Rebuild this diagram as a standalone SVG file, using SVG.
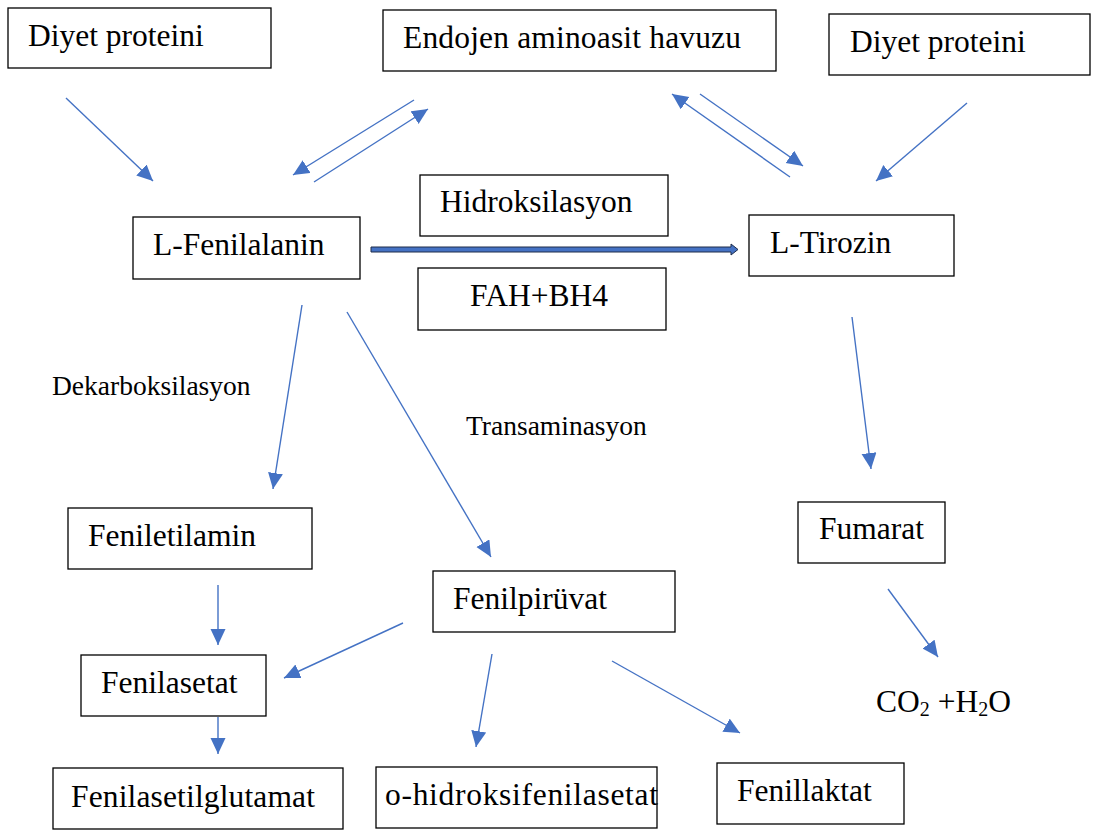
<svg xmlns="http://www.w3.org/2000/svg" width="1103" height="831" viewBox="0 0 1103 831">
<style>
.box{fill:#fff;stroke:#000;stroke-width:1.3}
.t{font-family:"Liberation Serif","Times New Roman",serif;font-size:31.5px;fill:#000}
.l{font-family:"Liberation Serif","Times New Roman",serif;font-size:27.5px;fill:#000}
.c{stroke:#4472C4;stroke-width:1.4;fill:none;marker-end:url(#ah)}
</style>
<defs>
<marker id="ah" markerUnits="userSpaceOnUse" markerWidth="18" markerHeight="16" refX="16" refY="7.5" orient="auto">
<path d="M0,0 L16,7.5 L0,15 z" fill="#4472C4"/>
</marker>
</defs>
<rect width="1103" height="831" fill="#fff"/>
<g id="n-diyet1"><rect class="box" x="8" y="8" width="263" height="60"/><text class="t" x="28" y="46">Diyet proteini</text></g>
<g id="n-endojen"><rect class="box" x="383" y="10" width="393" height="61"/><text class="t" x="403" y="48" textLength="338" lengthAdjust="spacing">Endojen aminoasit havuzu</text></g>
<g id="n-diyet2"><rect class="box" x="829" y="14" width="261" height="61"/><text class="t" x="850" y="52">Diyet proteini</text></g>
<g id="n-fenilalanin"><rect class="box" x="133" y="217" width="227" height="62"/><text class="t" x="153" y="255">L-Fenilalanin</text></g>
<g id="n-hidroksilasyon"><rect class="box" x="420" y="175" width="248" height="61"/><text class="t" x="440" y="212">Hidroksilasyon</text></g>
<g id="n-fah"><rect class="box" x="418" y="268" width="248" height="62"/><text class="t" x="470" y="306">FAH+BH4</text></g>
<g id="n-tirozin"><rect class="box" x="749" y="215" width="205" height="61"/><text class="t" x="770" y="253">L-Tirozin</text></g>
<g id="l-dekarboksilasyon"><text class="l" x="52" y="395">Dekarboksilasyon</text></g>
<g id="l-transaminasyon"><text class="l" x="466" y="435">Transaminasyon</text></g>
<g id="n-feniletilamin"><rect class="box" x="68" y="508" width="244" height="61"/><text class="t" x="88" y="546">Feniletilamin</text></g>
<g id="n-fenilpiruvat"><rect class="box" x="433" y="571" width="242" height="61"/><text class="t" x="453" y="609">Fenilpirüvat</text></g>
<g id="n-fumarat"><rect class="box" x="798" y="502" width="147" height="61"/><text class="t" x="819" y="539">Fumarat</text></g>
<g id="n-co2"><text class="t" x="876" y="712">CO<tspan font-size="20" dy="4">2</tspan><tspan dy="-4"> +H</tspan><tspan font-size="20" dy="4">2</tspan><tspan dy="-4">O</tspan></text></g>
<g id="n-fenilasetat"><rect class="box" x="81" y="655" width="185" height="61"/><text class="t" x="101" y="693">Fenilasetat</text></g>
<g id="n-fenilasetilglutamat"><rect class="box" x="53" y="768" width="290" height="61"/><text class="t" x="71" y="807" textLength="244" lengthAdjust="spacing">Fenilasetilglutamat</text></g>
<g id="n-ohidroksi"><rect class="box" x="376" y="767" width="281" height="61"/><text class="t" x="385" y="805" textLength="273" lengthAdjust="spacing">o-hidroksifenilasetat</text></g>
<g id="n-fenillaktat"><rect class="box" x="717" y="763" width="187" height="61"/><text class="t" x="737" y="801">Fenillaktat</text></g>
<g id="connectors">
<line class="c" x1="66" y1="98" x2="153" y2="181"/>
<line class="c" x1="414" y1="100" x2="293" y2="175"/>
<line class="c" x1="314" y1="182" x2="428" y2="109"/>
<line class="c" x1="700" y1="94" x2="803" y2="166"/>
<line class="c" x1="790" y1="177" x2="672" y2="94"/>
<line class="c" x1="967" y1="103" x2="876" y2="181"/>
<line class="c" x1="302" y1="305" x2="273" y2="489"/>
<line class="c" x1="347" y1="312" x2="491" y2="557"/>
<line class="c" x1="852" y1="317" x2="871" y2="469"/>
<line class="c" x1="218" y1="585" x2="218" y2="645"/>
<line class="c" x1="403" y1="623" x2="284" y2="678"/>
<line class="c" x1="218" y1="717" x2="218" y2="754"/>
<line class="c" x1="492" y1="654" x2="476" y2="747"/>
<line class="c" x1="612" y1="661" x2="740" y2="733"/>
<line class="c" x1="888" y1="589" x2="938" y2="657"/>
<path d="M371,247 L731,247 L731,244 L738,249.5 L731,255 L731,252 L371,252 z" fill="#4472C4" stroke="#1F2D4A" stroke-width="1"/>
</g>
</svg>
